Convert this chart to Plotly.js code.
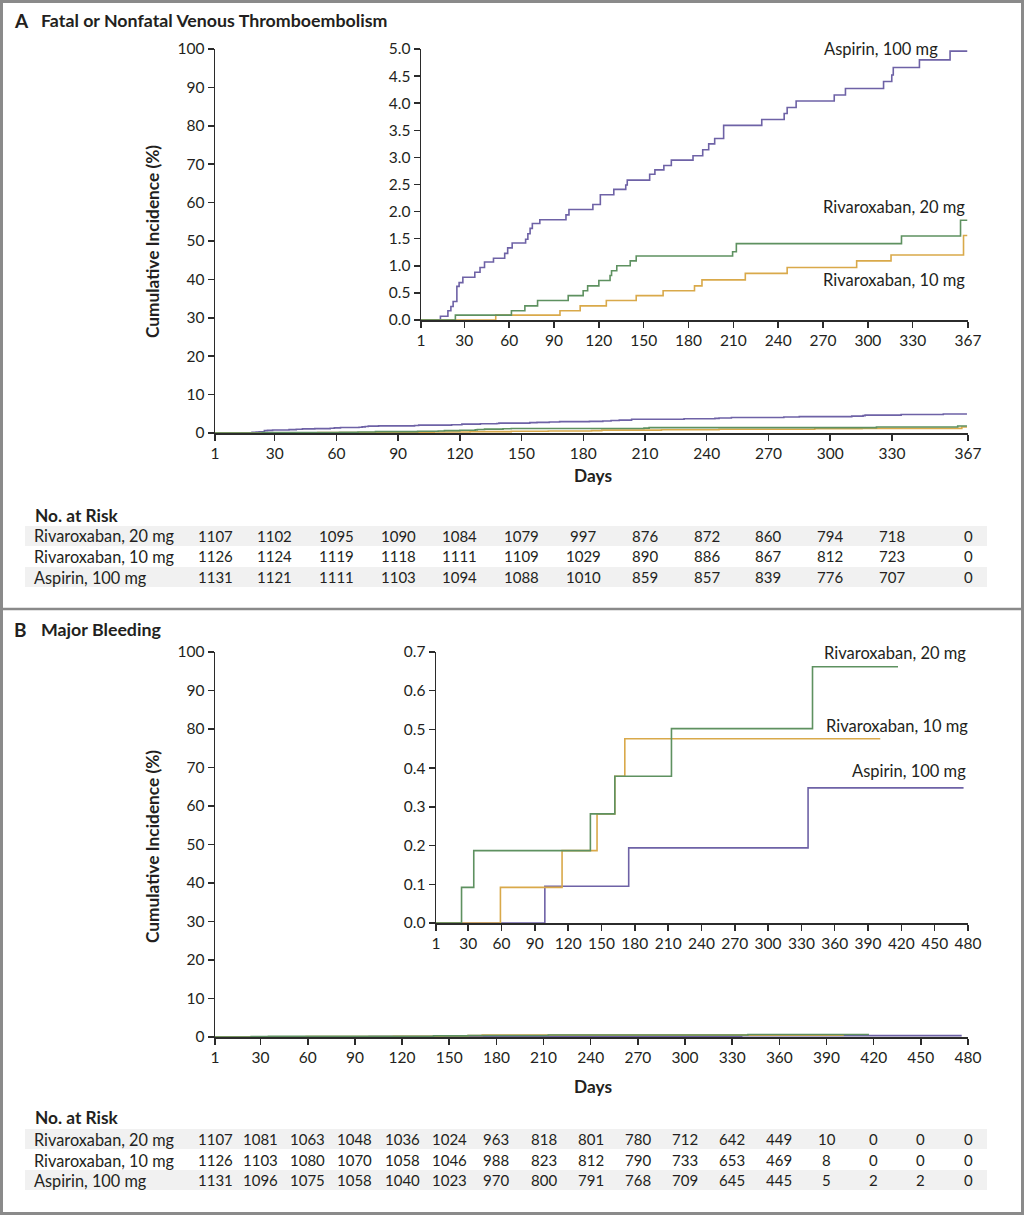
<!DOCTYPE html>
<html>
<head>
<meta charset="utf-8">
<script src="https://cdn.plot.ly/plotly-3.0.1.min.js"></script>
<style>html,body{margin:0;padding:0;background:#fff;}#chart{width:1024px;height:1215px;}</style>
</head>
<body>
<div id="chart"></div>
<script>
// ---------- DATA ----------
// Panel A: Fatal or nonfatal VTE (cumulative incidence, %)
const vteAspDays = [1, 14, 19, 21, 22.5, 25, 26.5, 29, 37, 40.5, 43.5, 49.5, 57, 59, 62, 71, 72.5, 74, 75.5, 80.5, 98, 100, 116, 121, 130, 138, 139, 154, 157.5, 163.5, 168.5, 183, 189.5, 193.5, 197.5, 203.5, 229, 244, 246, 252, 277.5, 285, 310.5, 316, 317, 334.5, 355, 366.5];
const vteAspVals = [0, 0.07, 0.17, 0.25, 0.34, 0.62, 0.69, 0.79, 0.88, 0.97, 1.07, 1.14, 1.23, 1.33, 1.42, 1.49, 1.59, 1.69, 1.78, 1.85, 1.94, 2.04, 2.13, 2.31, 2.41, 2.49, 2.58, 2.69, 2.77, 2.85, 2.95, 3.03, 3.14, 3.25, 3.35, 3.59, 3.70, 3.81, 3.92, 4.04, 4.15, 4.27, 4.40, 4.52, 4.66, 4.80, 4.96, 4.96];
const vteR20Days = [1, 24, 61.5, 70.5, 79, 99.5, 109.5, 112.5, 120, 127.5, 128.5, 132, 141, 145, 209.5, 212, 322.5, 362, 366.5];
const vteR20Vals = [0, 0.09, 0.17, 0.26, 0.36, 0.45, 0.54, 0.63, 0.73, 0.82, 0.91, 1.00, 1.09, 1.18, 1.26, 1.41, 1.55, 1.84, 1.84];
const vteR10Days = [1, 51, 94, 107.5, 125, 145, 163, 184, 189, 218, 246, 292.5, 315.5, 364, 366.5];
const vteR10Vals = [0, 0.09, 0.17, 0.26, 0.36, 0.45, 0.54, 0.63, 0.74, 0.86, 0.97, 1.09, 1.20, 1.56, 1.56];

// Panel B: Major bleeding (cumulative incidence, %)
const bleedR20Days = [1, 24, 35, 140, 162, 213, 340, 417];
const bleedR20Vals = [0, 0.092, 0.187, 0.282, 0.379, 0.502, 0.662, 0.662];
const bleedR10Days = [1, 59, 114.5, 146, 162, 171, 401];
const bleedR10Vals = [0, 0.092, 0.187, 0.282, 0.379, 0.476, 0.476];
const bleedAspDays = [1, 99, 174.5, 336, 476];
const bleedAspVals = [0, 0.095, 0.194, 0.349, 0.349];

// Tick labels / risk tables
const ticksA = [1, 30, 60, 90, 120, 150, 180, 210, 240, 270, 300, 330, 367];
const ticksB = [1, 30, 60, 90, 120, 150, 180, 210, 240, 270, 300, 330, 360, 390, 420, 450, 480];
const groupNames = ["Rivaroxaban, 20 mg", "Rivaroxaban, 10 mg", "Aspirin, 100 mg"];
const riskA_r20 = [1107, 1102, 1095, 1090, 1084, 1079, 997, 876, 872, 860, 794, 718, 0];
const riskA_r10 = [1126, 1124, 1119, 1118, 1111, 1109, 1029, 890, 886, 867, 812, 723, 0];
const riskA_asp = [1131, 1121, 1111, 1103, 1094, 1088, 1010, 859, 857, 839, 776, 707, 0];
const riskB_r20 = [1107, 1081, 1063, 1048, 1036, 1024, 963, 818, 801, 780, 712, 642, 449, 10, 0, 0, 0];
const riskB_r10 = [1126, 1103, 1080, 1070, 1058, 1046, 988, 823, 812, 790, 733, 653, 469, 8, 0, 0, 0];
const riskB_asp = [1131, 1096, 1075, 1058, 1040, 1023, 970, 800, 791, 768, 709, 645, 445, 5, 2, 2, 0];

// ---------- STYLE ----------
const W = 1024, H = 1215;
const PX = v => v / W;
const PY = v => 1 - v / H;
const cAsp = '#6e62a6', cR20 = '#5e9160', cR10 = '#d9a94a';
const txt = '#231f20';
const FONT = 'Lato, "Open Sans", sans-serif';

function step(x, y, xa, ya, color) {
  return {x: x, y: y, xaxis: xa, yaxis: ya, type: 'scatter', mode: 'lines',
    line: {shape: 'hv', color: color, width: 1.6}, hoverinfo: 'skip', showlegend: false};
}

const traces = [
  step(vteAspDays, vteAspVals, 'x', 'y', cAsp),
  step(vteR10Days, vteR10Vals, 'x', 'y', cR10),
  step(vteR20Days, vteR20Vals, 'x', 'y', cR20),
  step(vteAspDays, vteAspVals, 'x2', 'y2', cAsp),
  step(vteR10Days, vteR10Vals, 'x2', 'y2', cR10),
  step(vteR20Days, vteR20Vals, 'x2', 'y2', cR20),
  step(bleedAspDays, bleedAspVals, 'x3', 'y3', cAsp),
  step(bleedR10Days, bleedR10Vals, 'x3', 'y3', cR10),
  step(bleedR20Days, bleedR20Vals, 'x3', 'y3', cR20),
  step(bleedAspDays, bleedAspVals, 'x4', 'y4', cAsp),
  step(bleedR10Days, bleedR10Vals, 'x4', 'y4', cR10),
  step(bleedR20Days, bleedR20Vals, 'x4', 'y4', cR20)
];

function axisBase(extra) {
  return Object.assign({
    showgrid: false, zeroline: false, showline: true, linecolor: '#2b2b2b', linewidth: 1.5,
    ticks: 'outside', ticklen: 6, tickwidth: 1.5, tickcolor: '#2b2b2b',
    tickfont: {family: FONT, size: 15.5, color: txt}, fixedrange: true
  }, extra);
}

const annotations = [];
const shapes = [];
function addText(text, x, y, opts) {
  annotations.push(Object.assign({text: text, x: PX(x), y: PY(y), xref: 'paper', yref: 'paper',
    showarrow: false, xanchor: 'left', yanchor: 'middle',
    font: {family: FONT, size: 16.5, color: txt}}, opts || {}));
}

// Panel titles
addText('<b>A</b>', 12, 20, {font: {family: FONT, size: 19, color: txt}});
addText('<b>Fatal or Nonfatal Venous Thromboembolism</b>', 39, 20, {font: {family: FONT, size: 17.8, color: txt}});
addText('<b>B</b>', 12, 629, {font: {family: FONT, size: 19, color: txt}});
addText('<b>Major Bleeding</b>', 39, 629, {font: {family: FONT, size: 17.8, color: txt}});

// Axis titles
addText('<b>Cumulative Incidence (%)</b>', 152, 242, {textangle: -90, xanchor: 'center', font: {family: FONT, size: 17.3, color: txt}});
addText('<b>Cumulative Incidence (%)</b>', 152, 847, {textangle: -90, xanchor: 'center', font: {family: FONT, size: 17.3, color: txt}});
addText('<b>Days</b>', 593, 476, {xanchor: 'center', font: {family: FONT, size: 17.3, color: txt}});
addText('<b>Days</b>', 593, 1086, {xanchor: 'center', font: {family: FONT, size: 17.3, color: txt}});

// Curve labels
addText('Aspirin, 100 mg', 940, 49, {xanchor: 'right'});
addText('Rivaroxaban, 20 mg', 967, 207, {xanchor: 'right'});
addText('Rivaroxaban, 10 mg', 967, 280, {xanchor: 'right'});
addText('Rivaroxaban, 20 mg', 968, 653, {xanchor: 'right'});
addText('Rivaroxaban, 10 mg', 970, 726, {xanchor: 'right'});
addText('Aspirin, 100 mg', 968, 771, {xanchor: 'right'});

// Risk tables
function riskTable(headY, rowYs, rows, ticks, xref) {
  addText('<b>No. at Risk</b>', 33, headY, {font: {family: FONT, size: 17.3, color: txt}});
  rowYs.forEach((ry, i) => {
    if (i !== 1) {
      shapes.push({type: 'rect', xref: 'paper', yref: 'paper', x0: PX(25), x1: PX(987),
        y0: PY(ry + 10), y1: PY(ry - 10), fillcolor: '#f1f1f1', line: {width: 0}, layer: 'below'});
    }
    addText(groupNames[i], 32, ry, {font: {family: FONT, size: 16.3, color: txt}});
    rows[i].forEach((v, j) => {
      annotations.push({text: String(v), x: ticks[j], y: PY(ry), xref: xref, yref: 'paper',
        showarrow: false, xanchor: 'center', yanchor: 'middle',
        font: {family: FONT, size: 15, color: txt}});
    });
  });
}
riskTable(515, [536, 556, 577], [riskA_r20, riskA_r10, riskA_asp], ticksA, 'x');
riskTable(1117, [1139, 1160, 1180], [riskB_r20, riskB_r10, riskB_asp], ticksB, 'x3');

// Frame and separator
shapes.push({type: 'rect', xref: 'paper', yref: 'paper', x0: PX(1.5), x1: PX(1022.5), y0: PY(1213.5), y1: PY(1.5),
  line: {color: '#8a8a8a', width: 3}, fillcolor: 'rgba(0,0,0,0)'});
shapes.push({type: 'line', xref: 'paper', yref: 'paper', x0: 0, x1: 1, y0: PY(609), y1: PY(609),
  line: {color: '#8a8a8a', width: 2.5}});

const tickTextA = ticksA.map(String);
const tickTextB = ticksB.map(String);

const layout = {
  width: W, height: H,
  margin: {l: 0, r: 0, t: 0, b: 0},
  paper_bgcolor: '#ffffff', plot_bgcolor: 'rgba(0,0,0,0)',
  showlegend: false, hovermode: false,
  font: {family: FONT, color: txt},
  // Panel A main
  xaxis: axisBase({domain: [PX(215), PX(968)], range: [1, 367], tickvals: ticksA, ticktext: tickTextA, anchor: 'y'}),
  yaxis: axisBase({domain: [PY(433), PY(49)], range: [0, 100], tickvals: [0,10,20,30,40,50,60,70,80,90,100], anchor: 'x'}),
  // Panel A inset
  xaxis2: axisBase({domain: [PX(421), PX(968)], range: [1, 367], tickvals: ticksA, ticktext: tickTextA, anchor: 'y2'}),
  yaxis2: axisBase({domain: [PY(320), PY(49)], range: [0, 5], dtick: 0.5, tick0: 0, tickformat: '.1f', anchor: 'x2'}),
  // Panel B main
  xaxis3: axisBase({domain: [PX(215), PX(968)], range: [1, 480], tickvals: ticksB, ticktext: tickTextB, anchor: 'y3'}),
  yaxis3: axisBase({domain: [PY(1037), PY(652)], range: [0, 100], tickvals: [0,10,20,30,40,50,60,70,80,90,100], anchor: 'x3'}),
  // Panel B inset
  xaxis4: axisBase({domain: [PX(436), PX(968)], range: [1, 480], tickvals: ticksB, ticktext: tickTextB, anchor: 'y4'}),
  yaxis4: axisBase({domain: [PY(923), PY(652)], range: [0, 0.7], dtick: 0.1, tick0: 0, tickformat: '.1f', anchor: 'x4'}),
  annotations: annotations,
  shapes: shapes
};

Plotly.newPlot('chart', traces, layout, {staticPlot: true, displayModeBar: false});
</script>
</body>
</html>
